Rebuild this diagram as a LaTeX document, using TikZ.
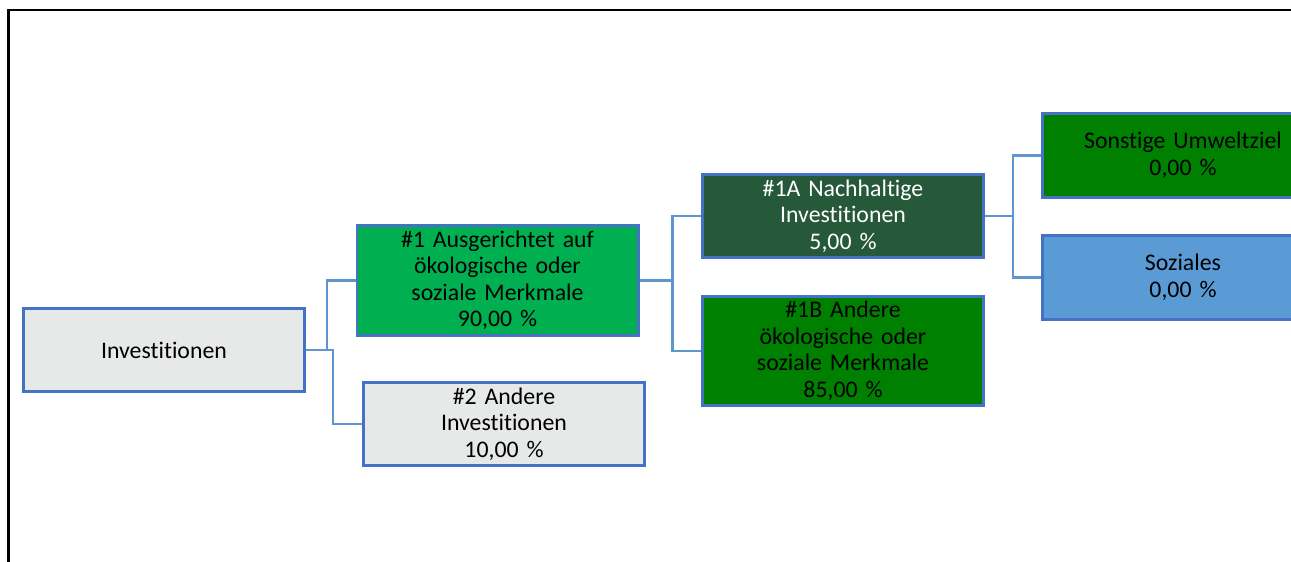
\documentclass[tikz,border=0pt]{standalone}
\usepackage{fontspec}
\setmainfont{Carlito}[Ligatures=NoCommon]
\definecolor{boxborder}{RGB}{68,114,196}
\definecolor{conn}{RGB}{95,150,205}
\definecolor{greylight}{RGB}{231,232,232}
\definecolor{brightgreen}{RGB}{0,176,80}
\definecolor{darkgreen}{RGB}{38,88,58}
\definecolor{midgreen}{RGB}{0,128,0}
\definecolor{softblue}{RGB}{91,155,213}
\tikzset{
  box/.style={draw=boxborder, line width=2.8pt, rectangle, inner sep=0pt,
    minimum width=281.2pt, text width=275pt, align=center,
    font=\fontsize{23.8}{26.5}\selectfont},
  conline/.style={draw=conn, line width=2.4pt},
}
\begin{document}
\begin{tikzpicture}[x=1pt,y=-1pt]
\clip (0,0) rectangle (1291,562);
\fill[white] (0,0) rectangle (1291,562);
\draw[line width=2.6pt] (8.5,563) -- (8.5,10) -- (1292,10);

\node[box, fill=greylight, minimum height=83.2pt] (inv) at (164,350) {Investitionen};
\node[box, fill=brightgreen, minimum height=110.2pt] (n1) at (497.5,280.5) {\#1 Ausgerichtet auf\\ökologische oder\\soziale Merkmale\\90,00 \%};
\node[box, fill=greylight, minimum height=83.2pt] (n2) at (504,424) {\#2 Andere\\Investitionen\\10,00 \%};
\node[box, fill=darkgreen, text=white, minimum height=83.2pt] (n1A) at (843,216) {\#1A Nachhaltige\\Investitionen\\5,00 \%};
\node[box, fill=midgreen, minimum height=109.2pt] (n1B) at (843,351) {\#1B Andere\\ökologische oder\\soziale Merkmale\\85,00 \%};
\node[box, fill=midgreen, minimum height=84.2pt] (sons) at (1183,155.5) {Sonstige Umweltziel\\0,00 \%};
\node[box, fill=softblue, minimum height=84.2pt] (soz) at (1183,277.5) {Soziales\\0,00 \%};

\draw[conline] (inv.east) -- ++(21,0) |- (n1.west);
\draw[conline] (inv.east) -- ++(27,0) |- (n2.west);
\draw[conline] (n1.east) -- ++(33,0) |- (n1A.west);
\draw[conline] (n1.east) -- ++(33,0) |- (n1B.west);
\draw[conline] (n1A.east) -- ++(28,0) |- (sons.west);
\draw[conline] (n1A.east) -- ++(28,0) |- (soz.west);
\end{tikzpicture}
\end{document}
